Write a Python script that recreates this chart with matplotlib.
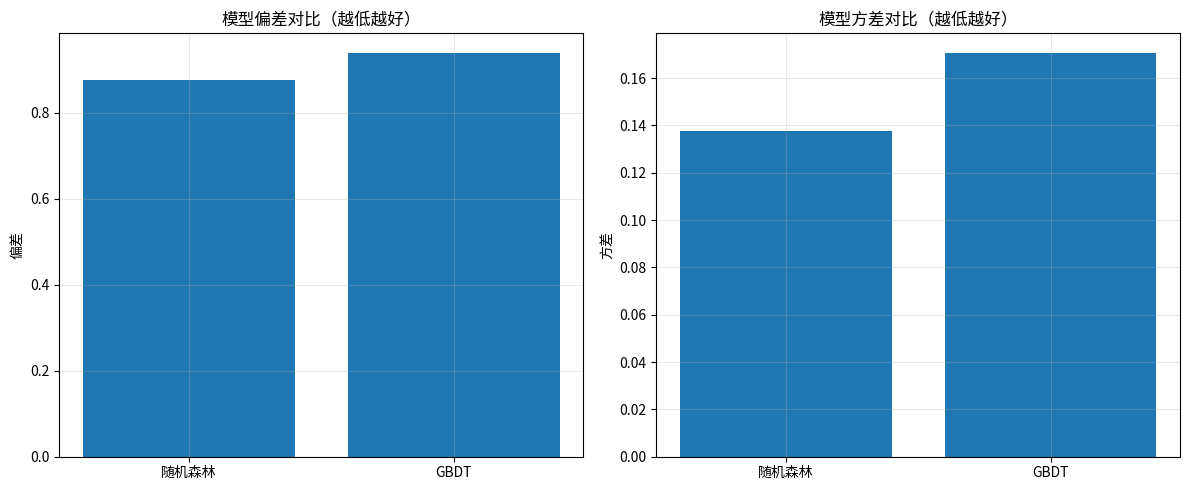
import matplotlib
matplotlib.use("Agg")
import matplotlib.pyplot as plt

plt.rcParams['font.family'] = ['Noto Sans CJK SC', 'DejaVu Sans']
plt.rcParams['axes.unicode_minus'] = False

models = ["随机森林", "GBDT"]
bias_values = [0.877, 0.939]
variance_values = [0.1378, 0.1707]

fig, (ax1, ax2) = plt.subplots(1, 2, figsize=(11.89, 4.9), dpi=100)

# 偏差
ax1.bar(models, bias_values, color="#1f77b4")
ax1.set_title("模型偏差对比（越低越好）")
ax1.set_ylabel("偏差")
ax1.grid(True, alpha=0.3)

# 方差
ax2.bar(models, variance_values, color="#1f77b4")
ax2.set_title("模型方差对比（越低越好）")
ax2.set_ylabel("方差")
ax2.grid(True, alpha=0.3)

fig.subplots_adjust(left=0.0499, right=0.9927, bottom=0.068, top=0.9333, wspace=0.1387)
plt.savefig("out.png")
